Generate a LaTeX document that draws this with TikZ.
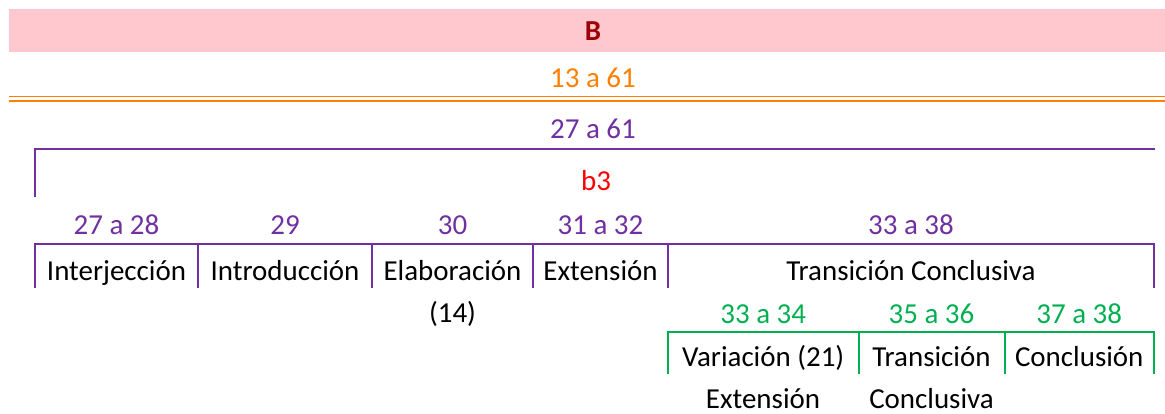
\documentclass[tikz,border=0pt]{standalone}
\usepackage{fontspec}
\setmainfont{Carlito}
\usetikzlibrary{positioning}
\definecolor{pinkfill}{HTML}{FFC7CE}
\definecolor{darkred}{HTML}{9C0006}
\definecolor{orng}{HTML}{FF8000}
\definecolor{purp}{HTML}{7030A0}
\definecolor{grn}{HTML}{00B050}
\begin{document}
\begin{tikzpicture}[x=0.38pt, y=-0.38pt, every node/.style={font=\fontsize{11}{13}\selectfont, inner sep=0pt, anchor=base},
pline/.style={draw=purp, line width=0.75pt}, gline/.style={draw=grn, line width=0.75pt}]
\useasboundingbox (0,0) rectangle (1165,414);
\fill[pinkfill] (8.5,9) rectangle (1165,52);
\node[text=darkred, font=\fontsize{11}{13}\selectfont\bfseries] (B) at (593,41) {B};
\node[text=orng] (0) at (593,87.5) {13 a 61};
\draw[orng, line width=0.7pt] (8.5,96.5) -- (1165,96.5) (8.5,100.9) -- (1165,100.9);
\node[text=purp] (1) at (593,138.5) {27 a 61};
\draw[pline] (35,197) -- (35,149) -- (1155,149);
\node[text=red] (2) at (596,190.5) {b3};
\draw[pline] (35,288) -- (35,244) -- (1154,244) -- (1154,288);
\foreach \x in {198, 372, 533, 668}{
\draw[pline] (\x,244) -- (\x,288);}
\foreach \a/\b/\n/\t [count=\k] in {35/198/27 a 28/Interjección, 198/372/29/Introducción, 372/533/30/Elaboración, 533/668/31 a 32/Extensión, 668/1154/33 a 38/Transición Conclusiva}{
\node[text=purp] (r\k) at ({(\a+\b)/2},235) {\n};
\node (s\k) at ({(\a+\b)/2},281) {\t};}
\node (3) at (452.5,323) {(14)};
\draw[gline] (668,374) -- (668,331.7) -- (1154,331.7) -- (1154,374);
\foreach \x in {858.5, 1004.5}{
\draw[gline] (\x,331.7) -- (\x,374);}
\foreach \a/\b/\n/\t [count=\k] in {668/858.5/33 a 34/Variación (21), 858.5/1004.5/35 a 36/Transición, 1004.5/1154/37 a 38/Conclusión}{
\node[text=grn] (g\k) at ({(\a+\b)/2},323.5) {\n};
\node (h\k) at ({(\a+\b)/2},366.5) {\t};}
\node (4) at (763,408.5) {Extensión};
\node (5) at (931.5,408.5) {Conclusiva};
\end{tikzpicture}
\end{document}
